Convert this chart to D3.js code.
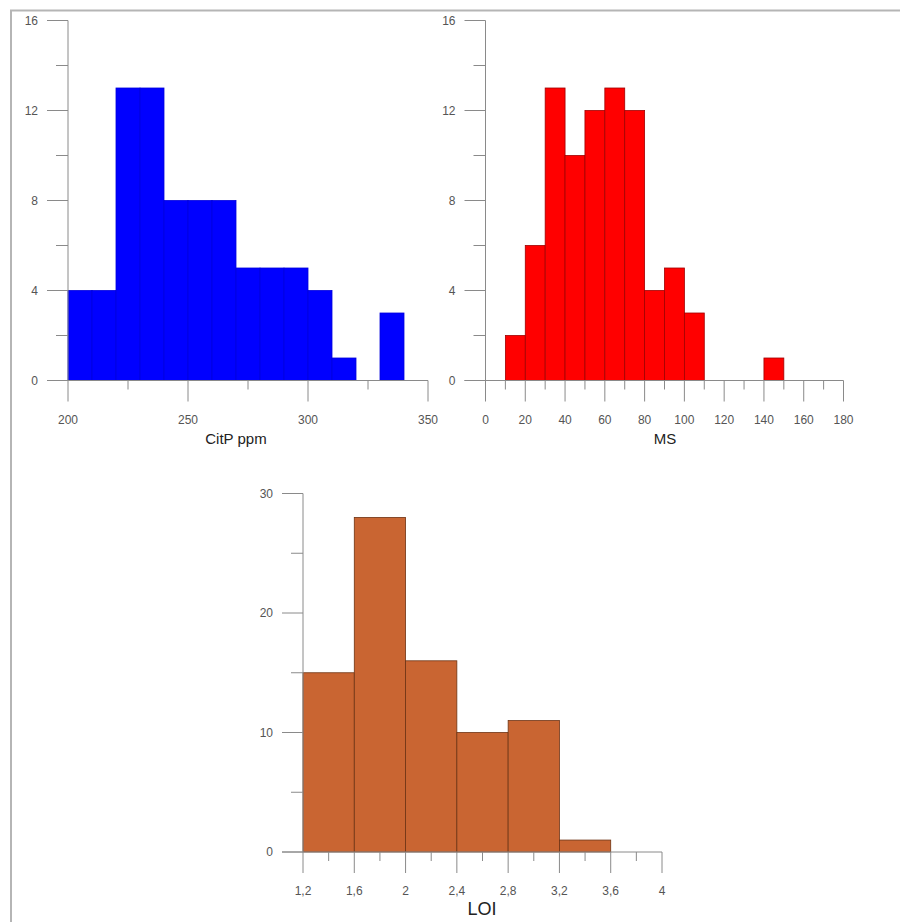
<!DOCTYPE html>
<html>
<head>
<meta charset="utf-8">
<script src="https://cdn.jsdelivr.net/npm/d3@7"></script>
<style>
  body { margin: 0; background: #fff; }
  svg { display: block; font-family: "Liberation Sans", Arial, sans-serif; }
  .axis line, .axis path { stroke: #8a8a8a; }
  .tick-label { fill: #555; font-size: 12px; }
  .axis-title { fill: #222; }
</style>
</head>
<body>
<svg id="chart" width="900" height="922"></svg>
<script>
// CitP ppm histogram (bin start, width 10)
const citpBinStart = [200, 210, 220, 230, 240, 250, 260, 270, 280, 290, 300, 310, 320, 330];
const citpCounts   = [4, 4, 13, 13, 8, 8, 8, 5, 5, 5, 4, 1, 0, 3];
const citpXTicks   = [200, 250, 300, 350];
const citpYTicks   = [0, 4, 8, 12, 16];

// MS histogram (bin start, width 10)
const msBinStart = [10, 20, 30, 40, 50, 60, 70, 80, 90, 100, 140];
const msCounts   = [2, 6, 13, 10, 12, 13, 12, 4, 5, 3, 1];
const msXTicks   = [0, 20, 40, 60, 80, 100, 120, 140, 160, 180];
const msYTicks   = [0, 4, 8, 12, 16];

// LOI histogram (bin start, width 0.4)
const loiBinStart = [1.2, 1.6, 2.0, 2.4, 2.8, 3.2];
const loiCounts   = [15, 28, 16, 10, 11, 1];
const loiXTicks   = [1.2, 1.6, 2, 2.4, 2.8, 3.2, 3.6, 4];
const loiYTicks   = [0, 10, 20, 30];

const svg = d3.select('#chart');

// page frame
svg.append('path')
  .attr('d', 'M11,922 V10.5 H900')
  .attr('fill', 'none').attr('stroke', '#b5b5b5').attr('stroke-width', 2);

function histogram(o) {
  const x = d3.scaleLinear().domain(o.xDomain).range([o.left, o.left + o.width]);
  const y = d3.scaleLinear().domain(o.yDomain).range([o.bottom, o.bottom - o.height]);
  const g = svg.append('g');

  const bins = o.starts.map((s, i) => ({x0: s, x1: s + o.binWidth, n: o.counts[i]}))
    .filter(b => b.n > 0);

  g.selectAll('rect.bar').data(bins).join('rect')
    .attr('class', 'bar')
    .attr('x', d => x(d.x0))
    .attr('y', d => y(d.n))
    .attr('width', d => x(d.x1) - x(d.x0))
    .attr('height', d => y(0) - y(d.n))
    .attr('fill', o.color)
    .attr('stroke', o.edge)
    .attr('stroke-width', 0.8);

  // y axis: major ticks labelled, minor ticks in between
  const yMinor = d3.range(o.yDomain[0] + o.yMinorStep, o.yDomain[1], o.yMinorStep * 2);
  const ya = g.append('g').attr('class', 'axis');
  ya.append('line')
    .attr('x1', x(o.xDomain[0])).attr('x2', x(o.xDomain[0]))
    .attr('y1', y(o.yDomain[0])).attr('y2', y(o.yDomain[1]));
  ya.selectAll('line.maj').data(o.yTicks).join('line')
    .attr('class', 'maj')
    .attr('x1', x(o.xDomain[0]) - 21).attr('x2', x(o.xDomain[0]))
    .attr('y1', d => y(d)).attr('y2', d => y(d));
  ya.selectAll('line.min').data(yMinor).join('line')
    .attr('class', 'min')
    .attr('x1', x(o.xDomain[0]) - 12).attr('x2', x(o.xDomain[0]))
    .attr('y1', d => y(d)).attr('y2', d => y(d));
  ya.selectAll('text').data(o.yTicks).join('text')
    .attr('class', 'tick-label')
    .attr('x', x(o.xDomain[0]) - 30)
    .attr('y', d => y(d) + 4)
    .attr('text-anchor', 'end')
    .text(d => d);

  // x axis
  const xMinor = d3.range(o.xDomain[0] + o.xMinorStep, o.xDomain[1], o.xMinorStep * 2);
  const xa = g.append('g').attr('class', 'axis');
  xa.append('line')
    .attr('x1', x(o.xDomain[0]) - 21).attr('x2', x(o.xDomain[1]))
    .attr('y1', y(0)).attr('y2', y(0));
  xa.selectAll('line.maj').data(o.xTicks).join('line')
    .attr('class', 'maj')
    .attr('x1', d => x(d)).attr('x2', d => x(d))
    .attr('y1', y(0)).attr('y2', y(0) + 21);
  xa.selectAll('line.min').data(xMinor).join('line')
    .attr('class', 'min')
    .attr('x1', d => x(d)).attr('x2', d => x(d))
    .attr('y1', y(0)).attr('y2', y(0) + 9);
  xa.selectAll('text').data(o.xTicks).join('text')
    .attr('class', 'tick-label')
    .attr('x', d => x(d))
    .attr('y', y(0) + 43)
    .attr('text-anchor', 'middle')
    .text(o.fmt || (d => d));

  g.append('text')
    .attr('class', 'axis-title')
    .attr('x', o.titleX)
    .attr('y', y(0) + 63)
    .attr('text-anchor', 'middle')
    .attr('font-size', o.titleSize)
    .text(o.title);
}

histogram({
  starts: citpBinStart, counts: citpCounts, binWidth: 10,
  xDomain: [200, 350], yDomain: [0, 16], xTicks: citpXTicks, yTicks: citpYTicks,
  xMinorStep: 25, yMinorStep: 2,
  left: 68, width: 360, bottom: 380.5, height: 360,
  color: '#0000ff', edge: '#0000dd',
  title: 'CitP ppm', titleX: 236, titleSize: 15
});

histogram({
  starts: msBinStart, counts: msCounts, binWidth: 10,
  xDomain: [0, 180], yDomain: [0, 16], xTicks: msXTicks, yTicks: msYTicks,
  xMinorStep: 10, yMinorStep: 2,
  left: 485.5, width: 358, bottom: 380.5, height: 360,
  color: '#ff0000', edge: '#a00000',
  title: 'MS', titleX: 665, titleSize: 15
});

histogram({
  starts: loiBinStart, counts: loiCounts, binWidth: 0.4,
  xDomain: [1.2, 4], yDomain: [0, 30], xTicks: loiXTicks, yTicks: loiYTicks,
  xMinorStep: 0.2, yMinorStep: 5,
  left: 303, width: 359, bottom: 852, height: 358.5,
  color: '#c96532', edge: '#6e3414',
  fmt: d => String(d).replace('.', ','),
  title: 'LOI', titleX: 482, titleSize: 18
});
</script>
</body>
</html>
